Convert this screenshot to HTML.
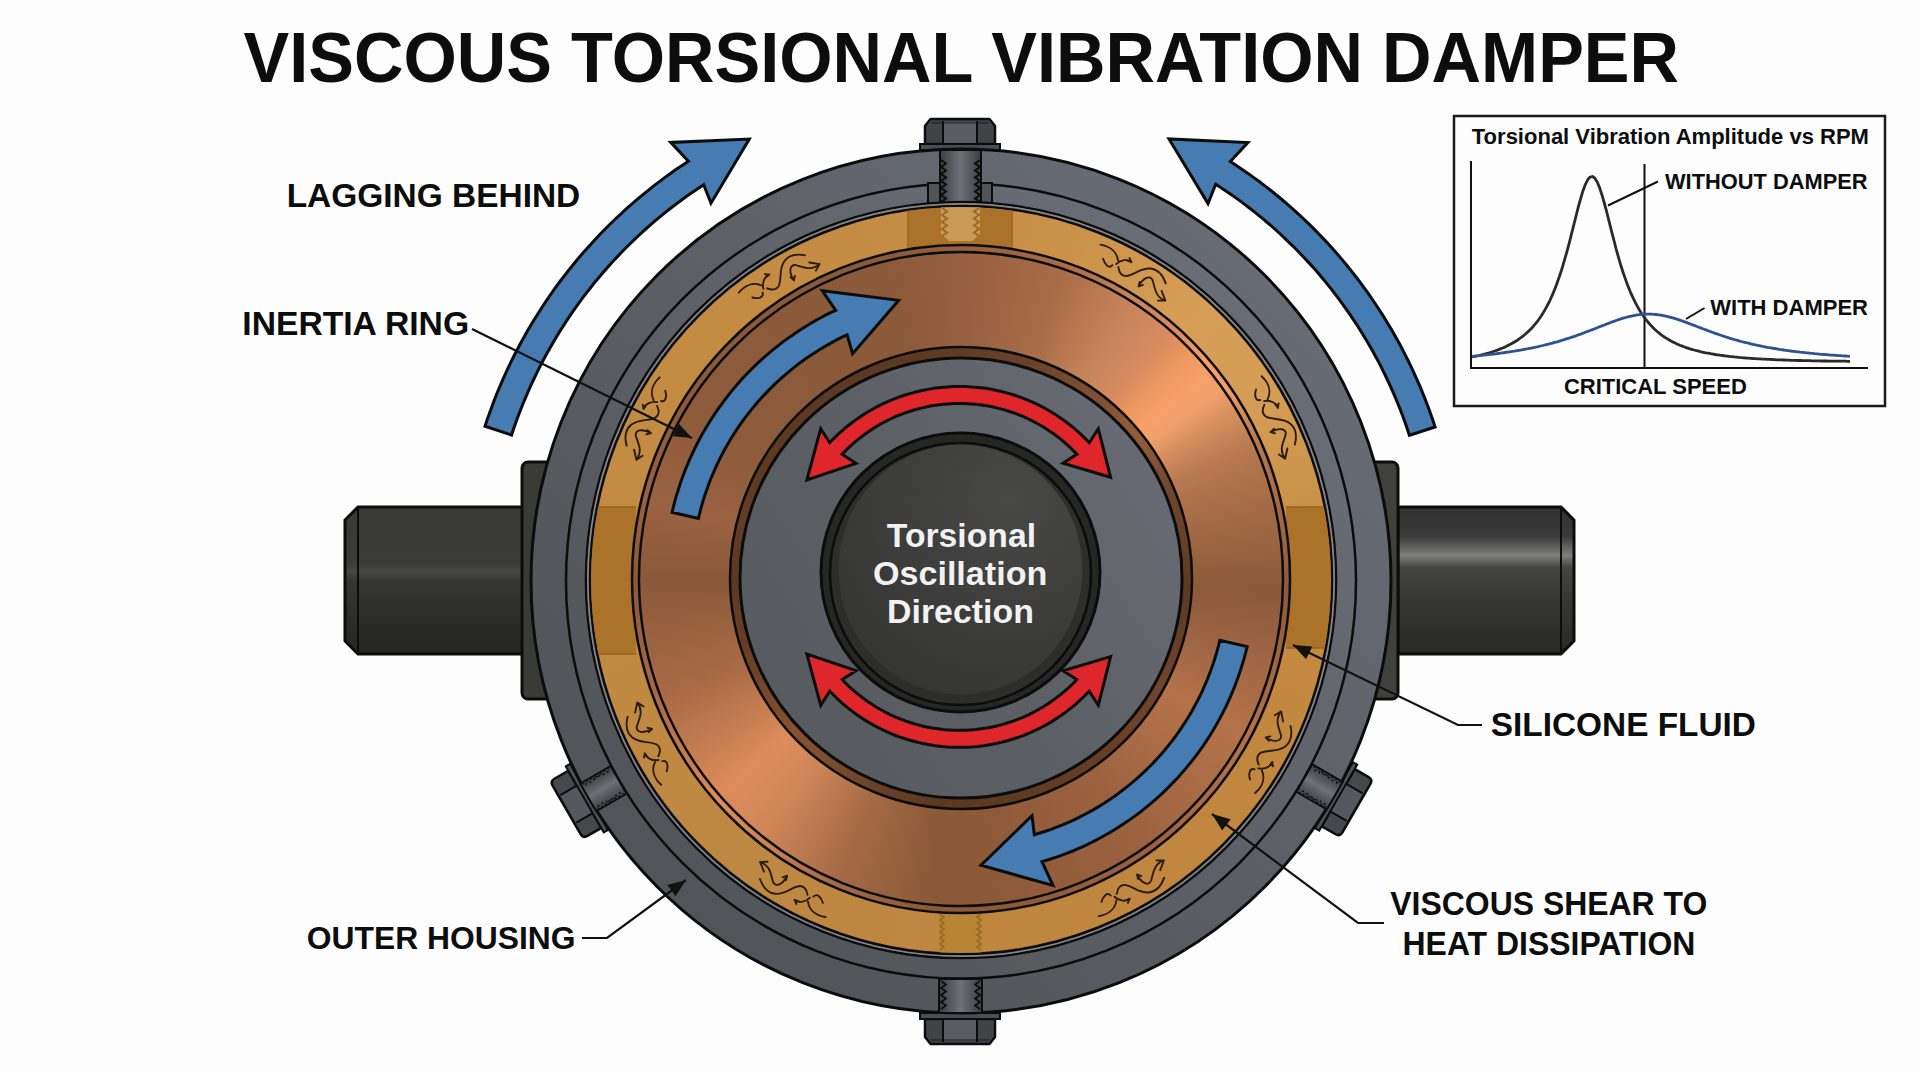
<!DOCTYPE html>
<html><head><meta charset="utf-8"><title>Viscous Torsional Vibration Damper</title>
<style>
html,body{margin:0;padding:0;background:#fdfdfd;}
body{width:1920px;height:1072px;overflow:hidden;font-family:"Liberation Sans",sans-serif;}
svg{display:block;font-family:"Liberation Sans",sans-serif;}
</style></head>
<body>
<svg width="1920" height="1072" viewBox="0 0 1920 1072">
<rect width="1920" height="1072" fill="#fdfdfd"/>
<defs>
<linearGradient id="shaftL" x1="0" y1="0" x2="0" y2="1">
 <stop offset="0" stop-color="#393936"/><stop offset="0.38" stop-color="#3b3b38"/>
 <stop offset="0.44" stop-color="#474745"/><stop offset="0.5" stop-color="#363634"/><stop offset="0.75" stop-color="#2c2c2a"/><stop offset="1" stop-color="#252523"/>
</linearGradient>
<linearGradient id="shaftR" x1="0" y1="0" x2="0" y2="1">
 <stop offset="0" stop-color="#303030"/><stop offset="0.2" stop-color="#3a3a3a"/>
 <stop offset="0.33" stop-color="#7e7e7c"/><stop offset="0.41" stop-color="#454543"/><stop offset="0.6" stop-color="#383836"/><stop offset="1" stop-color="#282826"/>
</linearGradient>
<linearGradient id="shank" x1="0" y1="0" x2="1" y2="0">
 <stop offset="0" stop-color="#3a3d42"/><stop offset="0.5" stop-color="#6e7278"/><stop offset="1" stop-color="#3a3d42"/>
</linearGradient>
<linearGradient id="housing" gradientUnits="userSpaceOnUse" x1="640" y1="900" x2="1280" y2="260">
 <stop offset="0" stop-color="#505357"/><stop offset="0.45" stop-color="#5a5d63"/><stop offset="1" stop-color="#686c75"/>
</linearGradient>
<linearGradient id="housing2" gradientUnits="userSpaceOnUse" x1="640" y1="900" x2="1280" y2="260">
 <stop offset="0" stop-color="#505357"/><stop offset="0.45" stop-color="#5c5f65"/><stop offset="1" stop-color="#6b6f78"/>
</linearGradient>
<linearGradient id="graydisk" gradientUnits="userSpaceOnUse" x1="760" y1="700" x2="1160" y2="450">
 <stop offset="0" stop-color="#575a5e"/><stop offset="0.5" stop-color="#5c5f64"/><stop offset="1" stop-color="#686b73"/>
</linearGradient>
<radialGradient id="face" gradientUnits="userSpaceOnUse" cx="1010" cy="500" r="230">
 <stop offset="0" stop-color="#484846"/><stop offset="0.6" stop-color="#3b3b39"/><stop offset="1" stop-color="#333331"/>
</radialGradient>
<clipPath id="goldclip"><ellipse cx="961" cy="580" rx="370" ry="373"/></clipPath>
</defs>
<path d="M358,507 L523,507 L523,654 L358,654 L345,641 L345,520 Z" fill="url(#shaftL)" stroke="#0c0c0c" stroke-width="3"/>
<line x1="358" y1="508" x2="358" y2="653" stroke="#0c0c0c" stroke-width="2"/>
<path d="M1398,507 L1561,507 L1574,520 L1574,641 L1561,654 L1398,654 Z" fill="url(#shaftR)" stroke="#0c0c0c" stroke-width="3"/>
<line x1="1561" y1="508" x2="1561" y2="653" stroke="#0c0c0c" stroke-width="2"/>
<rect x="522" y="462" width="50" height="237" rx="6" fill="#3a3a36" stroke="#0c0c0c" stroke-width="3"/>
<rect x="1348" y="462" width="50" height="237" rx="6" fill="#40403c" stroke="#0c0c0c" stroke-width="3"/>
<g transform="rotate(-120 961 581)"><path d="M927,130 Q927,125 932,125 L988,125 Q993,125 993,130 L993,146 L927,146 Z" fill="#45484d" stroke="#0c0c0c" stroke-width="2.5"/><rect x="944" y="127" width="32" height="19" fill="#55585e"/><line x1="944" y1="127" x2="944" y2="146" stroke="#0c0c0c" stroke-width="2"/><line x1="976" y1="127" x2="976" y2="146" stroke="#0c0c0c" stroke-width="2"/><rect x="922" y="146" width="76" height="5" fill="#4e5156" stroke="#0c0c0c" stroke-width="2"/></g>
<g transform="rotate(120 961 581)"><path d="M927,130 Q927,125 932,125 L988,125 Q993,125 993,130 L993,146 L927,146 Z" fill="#45484d" stroke="#0c0c0c" stroke-width="2.5"/><rect x="944" y="127" width="32" height="19" fill="#55585e"/><line x1="944" y1="127" x2="944" y2="146" stroke="#0c0c0c" stroke-width="2"/><line x1="976" y1="127" x2="976" y2="146" stroke="#0c0c0c" stroke-width="2"/><rect x="922" y="146" width="76" height="5" fill="#4e5156" stroke="#0c0c0c" stroke-width="2"/></g>
<path d="M925,126 L930.5,119 L989.5,119 L995,126 L995,144 L925,144 Z" fill="#404348" stroke="#0c0c0c" stroke-width="2.5" stroke-linejoin="round"/>
<path d="M943,122 L977,122 L977,144 L943,144 Z" fill="#595c62"/>
<path d="M943,121 L943,144 M977,121 L977,144" stroke="#0c0c0c" stroke-width="2"/>
<path d="M931,123 L989,123" stroke="#0c0c0c" stroke-width="1.2" opacity="0.7"/>
<rect x="920" y="144" width="80" height="6" fill="#4a4d52" stroke="#0c0c0c" stroke-width="2"/>
<path d="M925,1019 L995,1019 L995,1037 L989.5,1044 L930.5,1044 L925,1037 Z" fill="#404348" stroke="#0c0c0c" stroke-width="2.5" stroke-linejoin="round"/>
<path d="M943,1019 L977,1019 L977,1041 L943,1041 Z" fill="#595c62"/>
<path d="M943,1019 L943,1042 M977,1019 L977,1042" stroke="#0c0c0c" stroke-width="2"/>
<path d="M931,1040 L989,1040" stroke="#0c0c0c" stroke-width="1.2" opacity="0.7"/>
<rect x="920" y="1013" width="80" height="6" fill="#4a4d52" stroke="#0c0c0c" stroke-width="2"/>
<ellipse cx="961" cy="581" rx="430" ry="432" fill="url(#housing)" stroke="#0c0c0c" stroke-width="3"/>
<ellipse cx="961" cy="581" rx="395" ry="397.5" fill="url(#housing2)" stroke="#0c0c0c" stroke-width="2.5"/>
<rect x="928" y="183" width="64" height="24" fill="#505358" stroke="#0c0c0c" stroke-width="2"/>
<rect x="940" y="150" width="41" height="57" fill="url(#shank)" stroke="#0c0c0c" stroke-width="2"/>
<path d="M941.0,160.0 L946.0,163.5 L941.0,167.0 L946.0,170.5 L941.0,174.0 L946.0,177.5 L941.0,181.0 L946.0,184.5 L941.0,188.0 L946.0,191.5 L941.0,195.0 L946.0,198.5 L941.0,202.0 L946.0,205.5" fill="none" stroke="#0c0c0c" stroke-width="2"/>
<path d="M980.0,160.0 L975.0,163.5 L980.0,167.0 L975.0,170.5 L980.0,174.0 L975.0,177.5 L980.0,181.0 L975.0,184.5 L980.0,188.0 L975.0,191.5 L980.0,195.0 L975.0,198.5 L980.0,202.0 L975.0,205.5" fill="none" stroke="#0c0c0c" stroke-width="2"/>
<rect x="939" y="979" width="43" height="34" fill="url(#shank)" stroke="#0c0c0c" stroke-width="2"/>
<path d="M941.0,981.0 L946.0,984.5 L941.0,988.0 L946.0,991.5 L941.0,995.0 L946.0,998.5 L941.0,1002.0 L946.0,1005.5 L941.0,1009.0" fill="none" stroke="#0c0c0c" stroke-width="1.6"/>
<path d="M980.0,981.0 L975.0,984.5 L980.0,988.0 L975.0,991.5 L980.0,995.0 L975.0,998.5 L980.0,1002.0 L975.0,1005.5 L980.0,1009.0" fill="none" stroke="#0c0c0c" stroke-width="1.6"/>
<g transform="rotate(-120 961 581)"><rect x="944" y="150" width="32" height="35" fill="url(#shank)" stroke="#0c0c0c" stroke-width="1.8"/><path d="M945.0,152.0 L948.0,154.5 L945.0,157.0 L948.0,159.5 L945.0,162.0 L948.0,164.5 L945.0,167.0 L948.0,169.5 L945.0,172.0 L948.0,174.5 L945.0,177.0 L948.0,179.5 L945.0,182.0" fill="none" stroke="#0c0c0c" stroke-width="1.4" stroke-dasharray="2 1.5"/><path d="M975.0,152.0 L972.0,154.5 L975.0,157.0 L972.0,159.5 L975.0,162.0 L972.0,164.5 L975.0,167.0 L972.0,169.5 L975.0,172.0 L972.0,174.5 L975.0,177.0 L972.0,179.5 L975.0,182.0" fill="none" stroke="#0c0c0c" stroke-width="1.4" stroke-dasharray="2 1.5"/></g>
<g transform="rotate(120 961 581)"><rect x="944" y="150" width="32" height="35" fill="url(#shank)" stroke="#0c0c0c" stroke-width="1.8"/><path d="M945.0,152.0 L948.0,154.5 L945.0,157.0 L948.0,159.5 L945.0,162.0 L948.0,164.5 L945.0,167.0 L948.0,169.5 L945.0,172.0 L948.0,174.5 L945.0,177.0 L948.0,179.5 L945.0,182.0" fill="none" stroke="#0c0c0c" stroke-width="1.4" stroke-dasharray="2 1.5"/><path d="M975.0,152.0 L972.0,154.5 L975.0,157.0 L972.0,159.5 L975.0,162.0 L972.0,164.5 L975.0,167.0 L972.0,169.5 L975.0,172.0 L972.0,174.5 L975.0,177.0 L972.0,179.5 L975.0,182.0" fill="none" stroke="#0c0c0c" stroke-width="1.4" stroke-dasharray="2 1.5"/></g>
<ellipse cx="961" cy="580" rx="375" ry="378" fill="none" stroke="#0c0c0c" stroke-width="2.6"/>
<ellipse cx="961" cy="580" rx="373" ry="376" fill="none" stroke="#85878c" stroke-width="2"/>
<foreignObject x="590" y="206" width="742" height="748"><div style="width:742px;height:748px;border-radius:50%;background:conic-gradient(from 0deg, #c48c44 0deg, #cb934a 20deg, #d69e56 42deg, #d49c54 60deg, #c68c43 85deg, #c1873f 120deg, #bf8640 180deg, #bd8842 215deg, #c28a42 270deg, #c48b43 320deg, #c48c44 360deg)"></div></foreignObject>
<ellipse cx="961" cy="580" rx="371" ry="374" fill="none" stroke="#0c0c0c" stroke-width="2.5"/>
<g clip-path="url(#goldclip)">
<rect x="907" y="200" width="106" height="50" fill="#ab7329"/>
<line x1="908" y1="200" x2="908" y2="250" stroke="#a06a20" stroke-width="1.5"/><line x1="1012" y1="200" x2="1012" y2="250" stroke="#a06a20" stroke-width="1.5"/>
<path d="M941,200 L980,200 L980,234 L972,241 L949,241 L941,234 Z" fill="#c99a55"/>
<path d="M942.0,208.0 L947.0,211.5 L942.0,215.0 L947.0,218.5 L942.0,222.0 L947.0,225.5 L942.0,229.0 L947.0,232.5 L942.0,236.0" fill="none" stroke="#9c6a22" stroke-width="2"/>
<path d="M979.0,208.0 L974.0,211.5 L979.0,215.0 L974.0,218.5 L979.0,222.0 L974.0,225.5 L979.0,229.0 L974.0,232.5 L979.0,236.0" fill="none" stroke="#9c6a22" stroke-width="2"/>
<rect x="580" y="507" width="56" height="147" fill="#ab7329"/>
<rect x="1286" y="507" width="56" height="141" fill="#ab7329"/>
<line x1="580" y1="507" x2="636" y2="507" stroke="#96621c" stroke-width="1.5"/><line x1="580" y1="654" x2="636" y2="654" stroke="#96621c" stroke-width="1.5"/>
<line x1="1286" y1="507" x2="1342" y2="507" stroke="#96621c" stroke-width="1.5"/><line x1="1286" y1="648" x2="1342" y2="648" stroke="#96621c" stroke-width="1.5"/>
<rect x="939" y="900" width="43" height="60" fill="#b88535"/>
<path d="M940.0,914.0 L944.0,917.0 L940.0,920.0 L944.0,923.0 L940.0,926.0 L944.0,929.0 L940.0,932.0 L944.0,935.0 L940.0,938.0 L944.0,941.0 L940.0,944.0 L944.0,947.0 L940.0,950.0" fill="none" stroke="#9c6a22" stroke-width="1.8"/>
<path d="M981.0,914.0 L977.0,917.0 L981.0,920.0 L977.0,923.0 L981.0,926.0 L977.0,929.0 L981.0,932.0 L977.0,935.0 L981.0,938.0 L977.0,941.0 L981.0,944.0 L977.0,947.0 L981.0,950.0" fill="none" stroke="#9c6a22" stroke-width="1.8"/>
</g>
<g transform="translate(779.7,278.3) rotate(-31.0) scale(0.0746,0.0746) rotate(-29.3) translate(-470,-500)"><path d="M30,120 C150,140 250,210 265,330 M65,310 C85,380 140,450 190,395 M240,380 C300,320 400,310 445,355 M445,355 L380,330 M445,355 L420,300 M270,420 C280,500 320,540 380,540 C500,520 560,430 700,440 C800,450 870,540 905,640 M540,680 C600,560 700,520 730,600 C760,700 760,820 900,870 M540,680 L600,660 M540,680 L555,620 M900,870 L800,870 M900,870 L850,740" fill="none" stroke="#22160a" stroke-width="25" stroke-linecap="round" opacity="0.95"/></g>
<g transform="translate(1133.3,273.0) rotate(29.3) scale(0.0746,0.0746) rotate(-29.3) translate(-470,-500)"><path d="M30,120 C150,140 250,210 265,330 M65,310 C85,380 140,450 190,395 M240,380 C300,320 400,310 445,355 M445,355 L380,330 M445,355 L420,300 M270,420 C280,500 320,540 380,540 C500,520 560,430 700,440 C800,450 870,540 905,640 M540,680 C600,560 700,520 730,600 C760,700 760,820 900,870 M540,680 L600,660 M540,680 L555,620 M900,870 L800,870 M900,870 L850,740" fill="none" stroke="#22160a" stroke-width="25" stroke-linecap="round" opacity="0.95"/></g>
<g transform="translate(647.9,419.1) rotate(-62.8) scale(-0.0746,0.0746) rotate(-29.3) translate(-470,-500)"><path d="M30,120 C150,140 250,210 265,330 M65,310 C85,380 140,450 190,395 M240,380 C300,320 400,310 445,355 M445,355 L380,330 M445,355 L420,300 M270,420 C280,500 320,540 380,540 C500,520 560,430 700,440 C800,450 870,540 905,640 M540,680 C600,560 700,520 730,600 C760,700 760,820 900,870 M540,680 L600,660 M540,680 L555,620 M900,870 L800,870 M900,870 L850,740" fill="none" stroke="#22160a" stroke-width="25" stroke-linecap="round" opacity="0.95"/></g>
<g transform="translate(1273.5,418.0) rotate(62.6) scale(0.0746,0.0746) rotate(-29.3) translate(-470,-500)"><path d="M30,120 C150,140 250,210 265,330 M65,310 C85,380 140,450 190,395 M240,380 C300,320 400,310 445,355 M445,355 L380,330 M445,355 L420,300 M270,420 C280,500 320,540 380,540 C500,520 560,430 700,440 C800,450 870,540 905,640 M540,680 C600,560 700,520 730,600 C760,700 760,820 900,870 M540,680 L600,660 M540,680 L555,620 M900,870 L800,870 M900,870 L850,740" fill="none" stroke="#22160a" stroke-width="25" stroke-linecap="round" opacity="0.95"/></g>
<g transform="translate(649.1,743.1) rotate(242.4) scale(0.0746,0.0746) rotate(-29.3) translate(-470,-500)"><path d="M30,120 C150,140 250,210 265,330 M65,310 C85,380 140,450 190,395 M240,380 C300,320 400,310 445,355 M445,355 L380,330 M445,355 L420,300 M270,420 C280,500 320,540 380,540 C500,520 560,430 700,440 C800,450 870,540 905,640 M540,680 C600,560 700,520 730,600 C760,700 760,820 900,870 M540,680 L600,660 M540,680 L555,620 M900,870 L800,870 M900,870 L850,740" fill="none" stroke="#22160a" stroke-width="25" stroke-linecap="round" opacity="0.95"/></g>
<g transform="translate(1268.3,751.7) rotate(119.2) scale(-0.0746,0.0746) rotate(-29.3) translate(-470,-500)"><path d="M30,120 C150,140 250,210 265,330 M65,310 C85,380 140,450 190,395 M240,380 C300,320 400,310 445,355 M445,355 L380,330 M445,355 L420,300 M270,420 C280,500 320,540 380,540 C500,520 560,430 700,440 C800,450 870,540 905,640 M540,680 C600,560 700,520 730,600 C760,700 760,820 900,870 M540,680 L600,660 M540,680 L555,620 M900,870 L800,870 M900,870 L850,740" fill="none" stroke="#22160a" stroke-width="25" stroke-linecap="round" opacity="0.95"/></g>
<g transform="translate(792.5,889.1) rotate(208.6) scale(0.0746,0.0746) rotate(-29.3) translate(-470,-500)"><path d="M30,120 C150,140 250,210 265,330 M65,310 C85,380 140,450 190,395 M240,380 C300,320 400,310 445,355 M445,355 L380,330 M445,355 L420,300 M270,420 C280,500 320,540 380,540 C500,520 560,430 700,440 C800,450 870,540 905,640 M540,680 C600,560 700,520 730,600 C760,700 760,820 900,870 M540,680 L600,660 M540,680 L555,620 M900,870 L800,870 M900,870 L850,740" fill="none" stroke="#22160a" stroke-width="25" stroke-linecap="round" opacity="0.95"/></g>
<g transform="translate(1131.7,887.9) rotate(151.0) scale(-0.0746,0.0746) rotate(-29.3) translate(-470,-500)"><path d="M30,120 C150,140 250,210 265,330 M65,310 C85,380 140,450 190,395 M240,380 C300,320 400,310 445,355 M445,355 L380,330 M445,355 L420,300 M270,420 C280,500 320,540 380,540 C500,520 560,430 700,440 C800,450 870,540 905,640 M540,680 C600,560 700,520 730,600 C760,700 760,820 900,870 M540,680 L600,660 M540,680 L555,620 M900,870 L800,870 M900,870 L850,740" fill="none" stroke="#22160a" stroke-width="25" stroke-linecap="round" opacity="0.95"/></g>
<foreignObject x="632" y="245" width="658" height="668"><div style="width:658px;height:668px;border-radius:50%;background:conic-gradient(from 0deg, #965f40 0deg, #a86c48 18deg, #c8855a 32deg, #d88a60 40deg, #ec985f 45deg, #f8a06a 50deg, #f0a06a 54deg, #d08a5c 60deg, #b67850 66deg, #a46c47 76deg, #8b5a3a 92deg, #a06645 106deg, #b47249 118deg, #ad6e47 128deg, #9c6240 145deg, #8c5a39 175deg, #8a5938 185deg, #a46a45 202deg, #d08658 218deg, #de8c5c 228deg, #c87e52 236deg, #aa6b46 248deg, #8a5939 270deg, #9a6242 284deg, #8e5c3b 300deg, #8a5a3b 327deg, #8b5a3a 346deg, #965f40 360deg)"></div></foreignObject>
<ellipse cx="961" cy="579" rx="329" ry="334" fill="none" stroke="#0c0c0c" stroke-width="2.5"/>
<ellipse cx="961" cy="579" rx="322" ry="327" fill="none" stroke="#0c0c0c" stroke-width="2.5"/>
<path d="M672.1,512.3 L673.4,506.9 L674.8,501.4 L676.3,496.0 L678.0,490.7 L679.7,485.3 L681.5,480.0 L683.4,474.8 L685.4,469.5 L687.6,464.3 L689.8,459.2 L692.1,454.1 L694.5,449.0 L697.0,444.0 L699.6,439.0 L702.3,434.1 L705.1,429.3 L708.0,424.4 L710.9,419.7 L714.0,415.0 L717.1,410.4 L720.4,405.8 L723.7,401.3 L727.1,396.8 L730.6,392.4 L734.1,388.1 L737.8,383.8 L741.5,379.6 L745.3,375.5 L749.2,371.5 L753.2,367.5 L757.2,363.6 L761.3,359.8 L765.5,356.1 L769.8,352.4 L774.1,348.8 L778.5,345.4 L782.9,341.9 L787.4,338.6 L792.0,335.4 L796.6,332.2 L801.3,329.2 L806.1,326.2 L810.9,323.3 L815.7,320.5 L820.7,317.8 L825.6,315.2 L830.6,312.7 L835.7,310.3 L822.2,290.7 L898.7,300.3 L852.6,353.7 L847.1,334.8 L842.5,336.9 L838.0,339.2 L833.4,341.6 L829.0,344.1 L824.6,346.6 L820.2,349.2 L815.9,351.9 L811.6,354.7 L807.4,357.6 L803.2,360.5 L799.1,363.5 L795.1,366.6 L791.1,369.8 L787.2,373.1 L783.3,376.4 L779.5,379.8 L775.8,383.2 L772.1,386.8 L768.5,390.4 L765.0,394.1 L761.5,397.8 L758.1,401.6 L754.8,405.5 L751.6,409.4 L748.4,413.4 L745.3,417.4 L742.3,421.5 L739.3,425.7 L736.5,429.9 L733.7,434.2 L731.0,438.5 L728.4,442.9 L725.9,447.3 L723.4,451.8 L721.1,456.3 L718.8,460.9 L716.6,465.5 L714.5,470.1 L712.5,474.8 L710.5,479.5 L708.7,484.3 L707.0,489.0 L705.3,493.9 L703.7,498.7 L702.3,503.6 L700.9,508.5 L699.6,513.4 L698.4,518.4Z" fill="#477cb3" stroke="#0c0c0c" stroke-width="3" stroke-linejoin="miter"/>
<path d="M1247.1,646.6 L1245.6,652.9 L1243.9,659.2 L1242.0,665.4 L1240.0,671.6 L1237.9,677.7 L1235.7,683.8 L1233.3,689.9 L1230.8,695.8 L1228.1,701.8 L1225.4,707.6 L1222.5,713.4 L1219.4,719.2 L1216.3,724.8 L1213.0,730.4 L1209.6,736.0 L1206.1,741.4 L1202.4,746.8 L1198.7,752.1 L1194.8,757.3 L1190.8,762.4 L1186.7,767.4 L1182.5,772.3 L1178.2,777.2 L1173.7,781.9 L1169.2,786.6 L1164.6,791.1 L1159.8,795.6 L1155.0,799.9 L1150.1,804.1 L1145.1,808.2 L1140.0,812.3 L1134.8,816.1 L1129.5,819.9 L1124.1,823.6 L1118.7,827.1 L1113.2,830.5 L1107.6,833.8 L1101.9,837.0 L1096.2,840.1 L1090.4,843.0 L1084.6,845.8 L1078.6,848.4 L1072.7,851.0 L1066.6,853.4 L1060.6,855.6 L1054.4,857.8 L1048.3,859.8 L1042.0,861.6 L1053.0,885.5 L981.0,865.3 L1032.0,815.6 L1034.3,834.7 L1039.9,833.0 L1045.5,831.2 L1051.1,829.3 L1056.6,827.2 L1062.0,825.1 L1067.4,822.8 L1072.8,820.4 L1078.1,817.8 L1083.3,815.2 L1088.5,812.4 L1093.6,809.6 L1098.7,806.6 L1103.7,803.5 L1108.6,800.3 L1113.5,797.0 L1118.2,793.6 L1122.9,790.0 L1127.5,786.4 L1132.1,782.7 L1136.5,778.9 L1140.9,774.9 L1145.2,770.9 L1149.4,766.8 L1153.5,762.6 L1157.5,758.3 L1161.4,753.9 L1165.2,749.5 L1168.9,744.9 L1172.5,740.3 L1176.0,735.6 L1179.4,730.8 L1182.7,725.9 L1185.9,721.0 L1189.0,716.0 L1192.0,711.0 L1194.8,705.8 L1197.6,700.6 L1200.2,695.4 L1202.7,690.1 L1205.1,684.7 L1207.4,679.3 L1209.5,673.8 L1211.6,668.3 L1213.5,662.8 L1215.2,657.2 L1216.9,651.6 L1218.5,645.9 L1219.9,640.2Z" fill="#477cb3" stroke="#0c0c0c" stroke-width="3" stroke-linejoin="miter"/>
<ellipse cx="961" cy="578" rx="231" ry="231" fill="#2e170a" fill-opacity="0.5" stroke="#0c0c0c" stroke-width="2.5"/>
<ellipse cx="961" cy="578" rx="221" ry="220" fill="url(#graydisk)" stroke="#0c0c0c" stroke-width="3"/>
<path d="M820.7,428.7 L829.7,442.7 L833.9,438.3 L838.3,434.1 L842.8,430.1 L847.4,426.2 L852.2,422.5 L857.1,418.9 L862.1,415.5 L867.2,412.3 L872.5,409.2 L877.8,406.3 L883.2,403.6 L888.8,401.1 L894.4,398.8 L900.0,396.7 L905.8,394.8 L911.6,393.1 L917.5,391.5 L923.4,390.2 L929.3,389.1 L935.3,388.1 L941.3,387.4 L947.4,386.9 L953.4,386.6 L959.5,386.5 L965.6,386.6 L971.6,386.9 L977.7,387.4 L983.7,388.1 L989.7,389.1 L995.6,390.2 L1001.5,391.5 L1007.4,393.1 L1013.2,394.8 L1019.0,396.7 L1024.6,398.8 L1030.2,401.1 L1035.8,403.6 L1041.2,406.3 L1046.5,409.2 L1051.8,412.3 L1056.9,415.5 L1061.9,418.9 L1066.8,422.5 L1071.6,426.2 L1076.2,430.1 L1080.7,434.1 L1085.1,438.3 L1089.3,442.7 L1098.3,428.7 L1110.6,477.3 L1063.0,463.3 L1076.9,454.3 L1073.1,450.4 L1069.2,446.6 L1065.1,442.9 L1060.9,439.4 L1056.6,436.0 L1052.1,432.8 L1047.6,429.7 L1043.0,426.8 L1038.2,424.0 L1033.4,421.4 L1028.5,419.0 L1023.5,416.7 L1018.4,414.7 L1013.3,412.7 L1008.1,411.0 L1002.8,409.4 L997.5,408.1 L992.2,406.8 L986.8,405.8 L981.4,405.0 L975.9,404.3 L970.5,403.9 L965.0,403.6 L959.5,403.5 L954.0,403.6 L948.5,403.9 L943.1,404.3 L937.6,405.0 L932.2,405.8 L926.8,406.8 L921.5,408.1 L916.2,409.4 L910.9,411.0 L905.7,412.7 L900.6,414.7 L895.5,416.7 L890.5,419.0 L885.6,421.4 L880.8,424.0 L876.0,426.8 L871.4,429.7 L866.9,432.8 L862.4,436.0 L858.1,439.4 L853.9,442.9 L849.8,446.6 L845.9,450.4 L842.1,454.3 L856.0,463.3 L806.9,480.0Z" fill="#de262b" stroke="#0c0c0c" stroke-width="3"/>
<path d="M1098.3,705.3 L1089.2,691.2 L1085.0,695.5 L1080.6,699.7 L1076.1,703.8 L1071.5,707.7 L1066.7,711.4 L1061.8,714.9 L1056.8,718.3 L1051.7,721.6 L1046.4,724.6 L1041.1,727.5 L1035.7,730.2 L1030.2,732.7 L1024.6,735.0 L1018.9,737.1 L1013.1,739.0 L1007.3,740.7 L1001.5,742.3 L995.6,743.6 L989.6,744.7 L983.6,745.7 L977.6,746.4 L971.6,746.9 L965.6,747.2 L959.5,747.3 L953.4,747.2 L947.4,746.9 L941.4,746.4 L935.4,745.7 L929.4,744.7 L923.4,743.6 L917.5,742.3 L911.7,740.7 L905.9,739.0 L900.1,737.1 L894.4,735.0 L888.8,732.7 L883.3,730.2 L877.9,727.5 L872.6,724.6 L867.3,721.6 L862.2,718.3 L857.2,714.9 L852.3,711.4 L847.5,707.7 L842.9,703.8 L838.4,699.7 L834.0,695.5 L829.8,691.2 L820.7,705.3 L806.9,654.0 L856.0,670.7 L842.2,679.5 L846.0,683.5 L850.0,687.3 L854.0,690.9 L858.2,694.4 L862.6,697.8 L867.0,701.0 L871.5,704.1 L876.1,707.0 L880.9,709.8 L885.7,712.4 L890.6,714.8 L895.6,717.1 L900.7,719.2 L905.8,721.1 L911.0,722.8 L916.2,724.4 L921.5,725.8 L926.9,727.0 L932.3,728.0 L937.7,728.8 L943.1,729.5 L948.6,729.9 L954.0,730.2 L959.5,730.3 L965.0,730.2 L970.4,729.9 L975.9,729.5 L981.3,728.8 L986.7,728.0 L992.1,727.0 L997.5,725.8 L1002.8,724.4 L1008.0,722.8 L1013.2,721.1 L1018.3,719.2 L1023.4,717.1 L1028.4,714.8 L1033.3,712.4 L1038.1,709.8 L1042.9,707.0 L1047.5,704.1 L1052.0,701.0 L1056.4,697.8 L1060.8,694.4 L1065.0,690.9 L1069.0,687.3 L1073.0,683.5 L1076.8,679.5 L1063.0,670.7 L1110.6,656.6Z" fill="#de262b" stroke="#0c0c0c" stroke-width="3"/>
<circle cx="960.5" cy="572.5" r="139.5" fill="#262625" stroke="#0c0c0c" stroke-width="3"/>
<ellipse cx="960.5" cy="574" rx="130.5" ry="131" fill="#2d2d2c" stroke="#0c0c0c" stroke-width="2.5"/>
<ellipse cx="960.5" cy="569.5" rx="122" ry="125" fill="url(#face)"/>
<text transform="translate(886.8,547.4) scale(1.0068,1)" font-size="33.5" font-weight="bold" fill="#f2f2f2">Torsional</text>
<text transform="translate(872.98,585.2) scale(1.0179,1)" font-size="33.5" font-weight="bold" fill="#f2f2f2">Oscillation</text>
<text transform="translate(886.97,623) scale(1.0128,1)" font-size="33.5" font-weight="bold" fill="#f2f2f2">Direction</text>
<path d="M485.0,426.3 L487.2,419.6 L489.6,412.9 L492.0,406.2 L494.5,399.6 L497.1,393.0 L499.9,386.4 L502.7,379.9 L505.6,373.4 L508.6,367.0 L511.6,360.6 L514.8,354.3 L518.1,348.0 L521.4,341.7 L524.9,335.5 L528.4,329.3 L532.0,323.2 L535.7,317.2 L539.5,311.2 L543.3,305.2 L547.3,299.3 L551.3,293.5 L555.4,287.7 L559.6,282.0 L563.9,276.3 L568.3,270.7 L572.7,265.2 L577.2,259.7 L581.8,254.3 L586.5,248.9 L591.3,243.7 L596.1,238.5 L601.0,233.3 L605.9,228.3 L611.0,223.3 L616.1,218.3 L621.3,213.5 L626.5,208.7 L631.8,204.0 L637.2,199.4 L642.6,194.8 L648.2,190.3 L653.7,185.9 L659.4,181.6 L665.0,177.4 L670.8,173.2 L676.6,169.1 L682.5,165.2 L688.4,161.2 L670.7,142.4 L749.3,139.1 L711.0,203.2 L703.7,184.7 L698.1,188.4 L692.5,192.2 L687.0,196.0 L681.6,200.0 L676.2,204.0 L670.9,208.0 L665.7,212.2 L660.5,216.4 L655.3,220.7 L650.2,225.1 L645.2,229.5 L640.3,234.0 L635.4,238.6 L630.6,243.3 L625.8,248.0 L621.1,252.8 L616.5,257.6 L611.9,262.5 L607.5,267.5 L603.1,272.6 L598.7,277.7 L594.4,282.8 L590.3,288.1 L586.1,293.4 L582.1,298.7 L578.1,304.1 L574.2,309.6 L570.4,315.1 L566.7,320.6 L563.1,326.3 L559.5,331.9 L556.0,337.6 L552.6,343.4 L549.3,349.2 L546.0,355.1 L542.8,361.0 L539.8,366.9 L536.8,372.9 L533.9,379.0 L531.0,385.1 L528.3,391.2 L525.7,397.3 L523.1,403.5 L520.6,409.7 L518.2,416.0 L515.9,422.3 L513.7,428.6 L511.6,435.0Z" fill="#477cb3" stroke="#0c0c0c" stroke-width="3"/>
<path d="M1435.1,427.0 L1432.9,420.2 L1430.5,413.5 L1428.1,406.8 L1425.5,400.1 L1422.9,393.5 L1420.2,386.9 L1417.3,380.4 L1414.4,373.9 L1411.4,367.4 L1408.3,361.0 L1405.1,354.6 L1401.9,348.3 L1398.5,342.0 L1395.0,335.8 L1391.5,329.6 L1387.8,323.5 L1384.1,317.4 L1380.3,311.4 L1376.4,305.5 L1372.4,299.5 L1368.4,293.7 L1364.2,287.9 L1360.0,282.2 L1355.7,276.5 L1351.3,270.9 L1346.8,265.3 L1342.3,259.9 L1337.7,254.4 L1332.9,249.1 L1328.2,243.8 L1323.3,238.6 L1318.4,233.5 L1313.4,228.4 L1308.3,223.4 L1303.2,218.5 L1297.9,213.6 L1292.7,208.8 L1287.3,204.1 L1281.9,199.5 L1276.4,195.0 L1270.9,190.5 L1265.2,186.1 L1259.6,181.8 L1253.8,177.6 L1248.0,173.4 L1242.2,169.4 L1236.3,165.4 L1230.3,161.5 L1247.9,142.5 L1169.0,138.9 L1208.0,203.6 L1215.7,184.2 L1221.4,187.9 L1227.0,191.7 L1232.5,195.5 L1238.0,199.4 L1243.4,203.4 L1248.8,207.5 L1254.1,211.6 L1259.3,215.9 L1264.5,220.2 L1269.6,224.5 L1274.7,229.0 L1279.7,233.5 L1284.6,238.1 L1289.5,242.8 L1294.3,247.5 L1299.0,252.3 L1303.7,257.2 L1308.3,262.1 L1312.8,267.1 L1317.3,272.1 L1321.6,277.3 L1325.9,282.4 L1330.2,287.7 L1334.3,293.0 L1338.4,298.4 L1342.4,303.8 L1346.3,309.3 L1350.2,314.8 L1353.9,320.4 L1357.6,326.0 L1361.2,331.7 L1364.7,337.5 L1368.2,343.2 L1371.5,349.1 L1374.8,355.0 L1378.0,360.9 L1381.1,366.9 L1384.1,372.9 L1387.0,379.0 L1389.9,385.1 L1392.6,391.2 L1395.3,397.4 L1397.9,403.7 L1400.4,409.9 L1402.8,416.2 L1405.1,422.5 L1407.3,428.9 L1409.4,435.3Z" fill="#477cb3" stroke="#0c0c0c" stroke-width="3"/>
<text transform="translate(243.52,82.1) scale(0.9792,1)" font-size="70" font-weight="bold" fill="#0d0d0d">VISCOUS TORSIONAL VIBRATION DAMPER</text>
<text transform="translate(286.63,207) scale(0.9844,1)" font-size="34" font-weight="bold" fill="#0d0d0d">LAGGING BEHIND</text>
<text transform="translate(242.32,335) scale(0.9898,1)" font-size="34" font-weight="bold" fill="#0d0d0d">INERTIA RING</text>
<text transform="translate(306.81,948.6) scale(0.9948,1)" font-size="32" font-weight="bold" fill="#0d0d0d">OUTER HOUSING</text>
<text transform="translate(1490.72,735.8) scale(0.9825,1)" font-size="34" font-weight="bold" fill="#0d0d0d">SILICONE FLUID</text>
<text transform="translate(1390.3,915) scale(0.9678,1)" font-size="33" font-weight="bold" fill="#0d0d0d">VISCOUS SHEAR TO</text>
<text transform="translate(1402.56,954.6) scale(0.9681,1)" font-size="33" font-weight="bold" fill="#0d0d0d">HEAT DISSIPATION</text>
<path d="M472,329 L692,438" fill="none" stroke="#111" stroke-width="2.2"/>
<path d="M692,438 L672.8,436.3 L679.0,423.7 Z" fill="#111"/>
<path d="M582,938 L607,938 L686,880" fill="none" stroke="#111" stroke-width="2.2"/>
<path d="M686,880 L675.6,896.3 L667.3,885.0 Z" fill="#111"/>
<path d="M1482,725 L1458,725 L1293,645" fill="none" stroke="#111" stroke-width="2.2"/>
<path d="M1293,645 L1312.3,646.6 L1306.1,659.2 Z" fill="#111"/>
<path d="M1384,923 L1358,923 L1212,814" fill="none" stroke="#111" stroke-width="2.2"/>
<path d="M1212,814 L1230.6,819.2 L1222.2,830.4 Z" fill="#111"/>
<rect x="1454" y="116" width="431" height="290" fill="#fdfdfd" stroke="#1a1a1a" stroke-width="2.5"/>
<text transform="translate(1471.8,143.5) scale(1.0013,1)" font-size="22" font-weight="bold" fill="#0d0d0d">Torsional Vibration Amplitude vs RPM</text>
<path d="M1471,161 L1471,368 L1868,368" fill="none" stroke="#111" stroke-width="2"/>
<line x1="1644.5" y1="164" x2="1644.5" y2="368" stroke="#111" stroke-width="2"/>
<path d="M1472.0,357.0 L1474.4,356.5 L1476.7,356.0 L1479.1,355.5 L1481.5,354.9 L1483.8,354.3 L1486.2,353.7 L1488.5,353.0 L1490.9,352.3 L1493.3,351.5 L1495.6,350.7 L1498.0,349.9 L1500.3,348.9 L1502.7,348.0 L1505.1,346.9 L1507.4,345.8 L1509.8,344.6 L1512.2,343.3 L1514.5,342.0 L1516.9,340.5 L1519.2,338.9 L1521.6,337.2 L1524.0,335.3 L1526.3,333.3 L1528.7,331.1 L1531.1,328.7 L1533.4,326.2 L1535.8,323.4 L1538.2,320.3 L1540.5,317.0 L1542.9,313.3 L1545.2,309.4 L1547.6,305.0 L1550.0,300.3 L1552.3,295.1 L1554.7,289.4 L1557.0,283.2 L1559.4,276.5 L1561.8,269.3 L1564.1,261.4 L1566.5,253.1 L1568.9,244.3 L1571.2,235.1 L1573.6,225.7 L1576.0,216.2 L1578.3,207.0 L1580.7,198.4 L1583.0,190.7 L1585.4,184.3 L1587.8,179.7 L1590.1,177.0 L1592.5,176.5 L1594.8,178.2 L1597.2,182.0 L1599.6,187.6 L1601.9,194.7 L1604.3,203.0 L1606.7,211.9 L1609.0,221.2 L1611.4,230.7 L1613.8,239.9 L1616.1,248.8 L1618.5,257.3 L1620.8,265.3 L1623.2,272.7 L1625.6,279.6 L1627.9,285.9 L1630.3,291.8 L1632.7,297.1 L1635.0,301.9 L1637.4,306.4 L1639.7,310.5 L1642.1,314.2 L1644.5,317.6 L1646.8,320.7 L1649.2,323.5 L1651.5,326.1 L1653.9,328.5 L1656.3,330.7 L1658.6,332.7 L1661.0,334.6 L1663.4,336.3 L1665.7,337.9 L1668.1,339.3 L1670.5,340.7 L1672.8,341.9 L1675.2,343.1 L1677.5,344.2 L1679.9,345.2 L1682.3,346.1 L1684.6,347.0 L1687.0,347.8 L1689.3,348.6 L1691.7,349.3 L1694.1,350.0 L1696.4,350.6 L1698.8,351.2 L1701.2,351.8 L1703.5,352.3 L1705.9,352.8 L1708.2,353.2 L1710.6,353.7 L1713.0,354.1 L1715.3,354.5 L1717.7,354.8 L1720.1,355.2 L1722.4,355.5 L1724.8,355.8 L1727.2,356.1 L1729.5,356.4 L1731.9,356.6 L1734.2,356.9 L1736.6,357.1 L1739.0,357.4 L1741.3,357.6 L1743.7,357.8 L1746.0,358.0 L1748.4,358.1 L1750.8,358.3 L1753.1,358.5 L1755.5,358.6 L1757.9,358.8 L1760.2,358.9 L1762.6,359.1 L1765.0,359.2 L1767.3,359.3 L1769.7,359.4 L1772.0,359.5 L1774.4,359.6 L1776.8,359.8 L1779.1,359.8 L1781.5,359.9 L1783.8,360.0 L1786.2,360.1 L1788.6,360.2 L1790.9,360.3 L1793.3,360.3 L1795.7,360.4 L1798.0,360.5 L1800.4,360.5 L1802.8,360.6 L1805.1,360.6 L1807.5,360.7 L1809.8,360.7 L1812.2,360.8 L1814.6,360.8 L1816.9,360.9 L1819.3,360.9 L1821.7,361.0 L1824.0,361.0 L1826.4,361.0 L1828.7,361.1 L1831.1,361.1 L1833.5,361.1 L1835.8,361.2 L1838.2,361.2 L1840.5,361.2 L1842.9,361.2 L1845.3,361.2 L1847.6,361.3 L1850.0,361.3" fill="none" stroke="#2a2a2a" stroke-width="2.8" stroke-linejoin="round"/>
<path d="M1472.0,356.4 L1474.4,356.1 L1476.7,355.9 L1479.1,355.7 L1481.5,355.4 L1483.8,355.2 L1486.2,354.9 L1488.5,354.6 L1490.9,354.4 L1493.3,354.1 L1495.6,353.8 L1498.0,353.5 L1500.3,353.2 L1502.7,352.8 L1505.1,352.5 L1507.4,352.2 L1509.8,351.8 L1512.2,351.4 L1514.5,351.1 L1516.9,350.7 L1519.2,350.3 L1521.6,349.9 L1524.0,349.4 L1526.3,349.0 L1528.7,348.5 L1531.1,348.1 L1533.4,347.6 L1535.8,347.1 L1538.2,346.6 L1540.5,346.0 L1542.9,345.5 L1545.2,344.9 L1547.6,344.3 L1550.0,343.7 L1552.3,343.1 L1554.7,342.4 L1557.0,341.8 L1559.4,341.1 L1561.8,340.4 L1564.1,339.7 L1566.5,338.9 L1568.9,338.2 L1571.2,337.4 L1573.6,336.6 L1576.0,335.8 L1578.3,334.9 L1580.7,334.1 L1583.0,333.2 L1585.4,332.3 L1587.8,331.4 L1590.1,330.5 L1592.5,329.6 L1594.8,328.7 L1597.2,327.8 L1599.6,326.8 L1601.9,325.9 L1604.3,325.0 L1606.7,324.0 L1609.0,323.1 L1611.4,322.2 L1613.8,321.4 L1616.1,320.5 L1618.5,319.7 L1620.8,318.9 L1623.2,318.2 L1625.6,317.5 L1627.9,316.9 L1630.3,316.3 L1632.7,315.8 L1635.0,315.3 L1637.4,314.9 L1639.7,314.6 L1642.1,314.3 L1644.5,314.2 L1646.8,314.1 L1649.2,314.1 L1651.5,314.1 L1653.9,314.3 L1656.3,314.5 L1658.6,314.8 L1661.0,315.2 L1663.4,315.6 L1665.7,316.1 L1668.1,316.7 L1670.5,317.3 L1672.8,317.9 L1675.2,318.7 L1677.5,319.4 L1679.9,320.2 L1682.3,321.0 L1684.6,321.9 L1687.0,322.7 L1689.3,323.6 L1691.7,324.5 L1694.1,325.4 L1696.4,326.3 L1698.8,327.2 L1701.2,328.1 L1703.5,329.0 L1705.9,329.9 L1708.2,330.8 L1710.6,331.7 L1713.0,332.5 L1715.3,333.4 L1717.7,334.2 L1720.1,335.0 L1722.4,335.8 L1724.8,336.6 L1727.2,337.3 L1729.5,338.1 L1731.9,338.8 L1734.2,339.5 L1736.6,340.2 L1739.0,340.8 L1741.3,341.5 L1743.7,342.1 L1746.0,342.7 L1748.4,343.2 L1750.8,343.8 L1753.1,344.4 L1755.5,344.9 L1757.9,345.4 L1760.2,345.9 L1762.6,346.4 L1765.0,346.8 L1767.3,347.3 L1769.7,347.7 L1772.0,348.1 L1774.4,348.5 L1776.8,348.9 L1779.1,349.3 L1781.5,349.6 L1783.8,350.0 L1786.2,350.3 L1788.6,350.7 L1790.9,351.0 L1793.3,351.3 L1795.7,351.6 L1798.0,351.9 L1800.4,352.2 L1802.8,352.4 L1805.1,352.7 L1807.5,352.9 L1809.8,353.2 L1812.2,353.4 L1814.6,353.7 L1816.9,353.9 L1819.3,354.1 L1821.7,354.3 L1824.0,354.5 L1826.4,354.7 L1828.7,354.9 L1831.1,355.1 L1833.5,355.2 L1835.8,355.4 L1838.2,355.6 L1840.5,355.7 L1842.9,355.9 L1845.3,356.0 L1847.6,356.2 L1850.0,356.3" fill="none" stroke="#2f5290" stroke-width="2.8" stroke-linejoin="round"/>
<line x1="1608" y1="205.5" x2="1658" y2="181.5" stroke="#111" stroke-width="2"/>
<line x1="1686" y1="319" x2="1704.5" y2="308" stroke="#111" stroke-width="2"/>
<text transform="translate(1665.0,189.4) scale(1.0166,1)" font-size="21.5" font-weight="bold" fill="#0d0d0d">WITHOUT DAMPER</text>
<text transform="translate(1710.3,314.6) scale(1.0,1)" font-size="22" font-weight="bold" fill="#0d0d0d">WITH DAMPER</text>
<text transform="translate(1563.9,393.5) scale(1.0,1)" font-size="22" font-weight="bold" fill="#0d0d0d">CRITICAL SPEED</text>
</svg>
</body></html>
